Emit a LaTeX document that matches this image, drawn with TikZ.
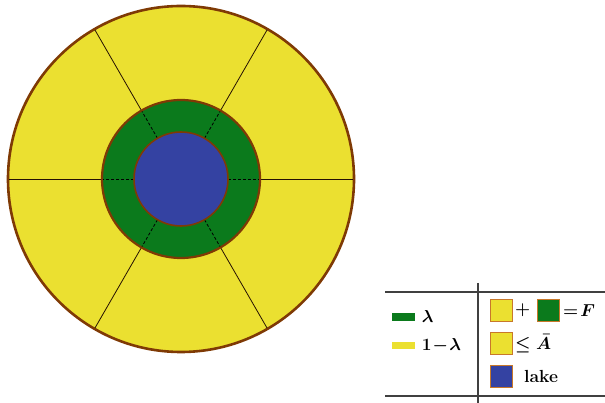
\documentclass[tikz,border=0pt]{standalone}
\usepackage{amsmath,amssymb}
\usepackage{tikz}
\usetikzlibrary{positioning,calc}
\definecolor{fieldyel}{HTML}{EBE030}
\definecolor{fieldgrn}{HTML}{0B7A1C}
\definecolor{lakeblue}{HTML}{3442A2}
\definecolor{rim}{HTML}{7F3A05}
\definecolor{sqrim}{HTML}{C8782A}
\tikzset{
  swatch/.style ={draw=sqrim, line width=0.9pt, minimum size=22pt,
                  inner sep=0pt},
  bar/.style    ={minimum width=23pt, minimum height=7.5pt, inner sep=0pt},
  lgd/.style    ={font=\fontsize{17.5}{19}\selectfont\bfseries\boldmath,
                  inner sep=0pt},
  rule/.style   ={line width=1.3pt, black!75},
}

\begin{document}
\begin{tikzpicture}[x=1pt,y=-1pt,
  spoke/.style={line width=0.8pt, black!70!rim},
  inspoke/.style={line width=0.8pt, black, densely dashed}]
\useasboundingbox (0,0) rectangle (605,403);
% fields round the lake
\coordinate (c) at (181,179);
\filldraw[fill=fieldyel, draw=rim, line width=2.6pt] (c) circle (173);
\foreach \a in {0,60,...,300}
  \draw[spoke] ($(c)+(\a:79)$) -- ($(c)+(\a:172)$);
\filldraw[fill=fieldgrn, draw=rim, line width=2.2pt] (c) circle (79);
\foreach \a in {0,60,...,300}
  \draw[inspoke] ($(c)+(\a:47)$) -- ($(c)+(\a:78)$);
\filldraw[fill=lakeblue, draw=rim, line width=1.6pt] (c) circle (47);
% legend
\draw[rule] (385,292) -- (605,292);
\draw[rule] (385,396) -- (605,396);
\draw[rule] (478,283) -- (478,403);
\node[bar, fill=fieldgrn] (gbar) at (403,317) {};
\node[lgd, right=7pt of gbar] (glam) {$\lambda$};
\node[bar, fill=fieldyel] (ybar) at (403,345.5) {};
\node[lgd, right=7pt of ybar] (ylam) {$1\!-\!\lambda$};
\node[swatch, fill=fieldyel] (s1) at (501.5,310.5) {};
\node[lgd, right=2pt of s1] (plus) {$+$};
\node[swatch, fill=fieldgrn] (s2) at (548.5,310.5) {};
\node[lgd, right=3pt of s2] (eqf) {$=\!F$};
\node[swatch, fill=fieldyel] (s3) at (501.5,343.5) {};
\node[lgd, right=2pt of s3] (leq) {$\leq\bar{A}$};
\node[swatch, fill=lakeblue] (s4) at (501.5,376) {};
\node[lgd, right=11pt of s4] (lk) {lake};
\end{tikzpicture}
\end{document}
